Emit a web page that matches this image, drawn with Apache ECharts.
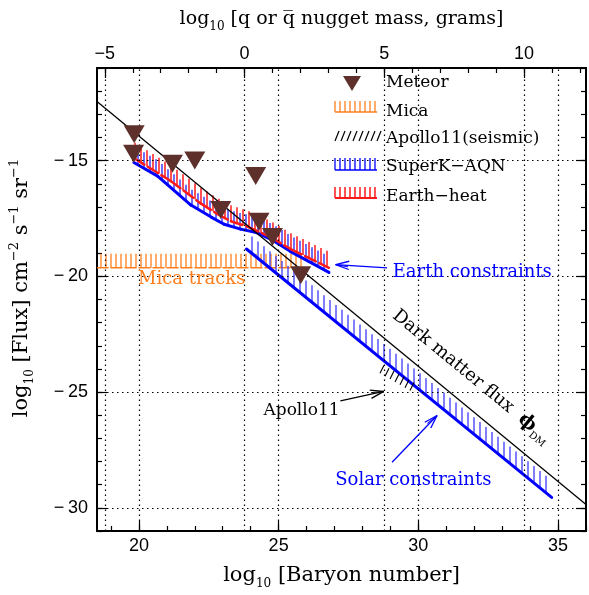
<!DOCTYPE html>
<html>
<head>
<meta charset="utf-8">
<script src="https://cdn.jsdelivr.net/npm/echarts@6/dist/echarts.min.js"></script>
<style>
  html, body { margin: 0; padding: 0; background: #fff; }
  #chart { width: 589px; height: 595px; }
</style>
</head>
<body>
<div id="chart"></div>
<script>
// ---- axes ----
const xRange = [18.5, 36];
const yRange = [-31, -11];
const massOffset = 23.78;            // log10(proton mass / g) = -23.78
const xMajor = [20, 25, 30, 35];
const xMinor = [19, 20, 21, 22, 23, 24, 25, 26, 27, 28, 29, 30, 31, 32, 33, 34, 35, 36];
const yMajor = [-30, -25, -20, -15];
const yMinor = [-31, -30, -29, -28, -27, -26, -25, -24, -23, -22, -21, -20, -19, -18, -17, -16, -15, -14, -13, -12, -11];
const massMajor = [-5, 0, 5, 10];
const massMinor = [-5, -4, -3, -2, -1, 0, 1, 2, 3, 4, 5, 6, 7, 8, 9, 10, 11, 12];

// ---- data (log10 baryon number, log10 flux) ----
const dmX = [18.5, 36];
const dmY = [-12.45, -29.85];

const meteorX = [19.83, 19.81, 21.20, 22.00, 22.93, 24.18, 24.30, 24.78, 25.79];
const meteorY = [-13.86, -14.70, -15.14, -15.00, -17.13, -15.67, -17.64, -18.30, -19.95];

const superkX = [19.82, 20.67, 21.86, 22.60, 23.05, 23.64, 24.24, 24.80, 25.43, 26.80];
const superkY = [-15.08, -15.67, -16.92, -17.45, -17.75, -17.96, -18.12, -18.45, -18.93, -19.83];

const earthX = [19.83, 21.14, 22.21, 22.80, 23.29, 23.88, 24.71, 25.43, 26.80];
const earthY = [-14.90, -15.88, -16.85, -17.30, -17.62, -17.85, -18.30, -18.82, -19.63];

const solarX = [23.85, 34.77];
const solarY = [-18.82, -29.55];

const micaX = [18.5, 25.95];
const micaY = [-19.63, -19.63];

const apolloX = [28.5, 29.8];
const apolloY = [-24.1, -25.0];

// annotations
const noteText = ['Mica tracks', 'Earth constraints', 'Solar constraints', 'Apollo11'];
const noteX = [21.89, 31.93, 29.82, 25.82];
const noteY = [-20.13, -19.83, -28.79, -25.79];
const noteColor = ['#ff7f1e', '#0000ff', '#0000ff', '#000'];
const noteSize = [18, 18, 18, 17];

const arrowFrom = [[28.88, -19.63], [27.21, -25.38], [29.06, -28.03]];
const arrowTo = [[27.04, -19.49], [28.76, -24.97], [30.67, -26.01]];
const arrowColor = ['#0000ff', '#000', '#0000ff'];

const legendNames = ['Meteor', 'Mica', 'Apollo11(seismic)', 'SuperK\u2212AQN', 'Earth\u2212heat'];
const legendColors = ['#5e302b', '#ff7f1e', '#000', '#0000ff', '#ff1a1a'];

const SERIF = '"DejaVu Serif", serif';
const SANS = '"Liberation Sans", Arial, sans-serif';

const minus = v => (v < 0 ? '\u2212\u2009' + (-v) : String(v));

function pairs(xs, ys) { return xs.map((x, i) => [x, ys[i]]); }
function segs(xs, ys) {
  const out = [];
  for (let i = 0; i < xs.length - 1; i++) out.push([xs[i], ys[i], xs[i + 1], ys[i + 1]]);
  return out;
}

// hatched constraint curve: base line + short strokes every `step` px
function hatchSeries(name, xs, ys, o) {
  return {
    name: name, type: 'custom', xAxisIndex: 0, yAxisIndex: 0,
    data: segs(xs, ys), encode: {x: [0, 2], y: [1, 3]},
    silent: true, clip: true, z: o.z || 2,
    renderItem: function (params, api) {
      const a = api.coord([api.value(0), api.value(1)]);
      const b = api.coord([api.value(2), api.value(3)]);
      const kids = [];
      const x0 = Math.ceil((a[0] - o.phase) / o.step) * o.step + o.phase;
      for (let x = x0; x < b[0]; x += o.step) {
        const y = a[1] + (x - a[0]) / (b[0] - a[0]) * (b[1] - a[1]);
        kids.push({type: 'line', shape: {x1: x, y1: y, x2: x + (o.dx || 0), y2: y - o.len},
          style: {stroke: o.color, lineWidth: o.hw || 1.3}});
      }
      if (o.lw) {
        kids.push({type: 'line', shape: {x1: a[0], y1: a[1], x2: b[0], y2: b[1]},
          style: {stroke: o.line || o.color, lineWidth: o.lw, lineDash: o.dash || null, lineCap: 'round'}});
      }
      return {type: 'group', children: kids};
    }
  };
}

// ---- hand drawn legend (top right) ----
function buildLegend() {
  const g = [];
  const x0 = 335, x1 = 377, tx = 386;
  const rows = [83, 112, 139, 167, 197];
  function hatch(base, len, step, color, dx, lw, line) {
    for (let x = x0; x <= x1; x += step) {
      g.push({type: 'line', shape: {x1: x, y1: base, x2: x + dx, y2: base - len}, style: {stroke: color, lineWidth: lw}});
    }
    if (line) g.push({type: 'line', shape: {x1: x0, y1: base, x2: x1, y2: base}, style: {stroke: color, lineWidth: line}});
  }
  g.push({type: 'polygon', shape: {points: [[343, 76], [361, 76], [352, 91]]}, style: {fill: legendColors[0]}});
  hatch(112, 11, 5, legendColors[1], 0, 1.3, 1.3);
  hatch(141, 10, 6, legendColors[2], 4, 1.2, 0);
  hatch(170, 12, 5, legendColors[3], 0, 1.3, 1.5);
  hatch(198, 11, 5, legendColors[4], 0, 1.5, 2);
  legendNames.forEach((n, i) => g.push({type: 'text', x: tx, y: rows[i],
    style: {text: n, fill: '#000', font: '17px ' + SERIF, verticalAlign: 'middle'}}));
  return g;
}

const chart = echarts.init(document.getElementById('chart'));

const frame = {show: true, onZero: false, lineStyle: {color: '#000', width: 2}};
const noLine = {show: false, onZero: false};
const subRich = {fontSize: 12, fontFamily: SERIF, verticalAlign: 'bottom', lineHeight: 14};

const yTitle = {type: 'text', x: 22, y: 288, rotation: Math.PI / 2,
  style: {text: 'log{sub|10} [Flux] cm{sup|\u22122} s{sup|\u22121} sr{sup|\u22121}',
    fill: '#000', font: '21px ' + SERIF, align: 'center', verticalAlign: 'middle', lineHeight: 28,
    rich: {
      sub: subRich,
      sup: {fontSize: 13, fontFamily: SERIF, verticalAlign: 'top', lineHeight: 14}
    }}};

chart.setOption({
  animation: false,
  backgroundColor: '#fff',
  grid: {left: 97, right: 3, top: 58, bottom: 57},
  xAxis: [
    {type: 'value', position: 'bottom', min: xRange[0], max: xRange[1],
      axisLine: frame, splitLine: {show: false},
      axisTick: {inside: true, length: 10, customValues: xMajor, lineStyle: {color: '#000', width: 1.2}},
      axisLabel: {customValues: xMajor, color: '#000', fontSize: 18, fontFamily: SANS, margin: 6},
      name: 'log{sub|10} [Baryon number]', nameLocation: 'middle', nameGap: 31,
      nameTextStyle: {color: '#000', fontSize: 21, fontFamily: SERIF, lineHeight: 28, rich: {sub: subRich}}},
    {type: 'value', position: 'bottom', min: xRange[0], max: xRange[1],
      axisLine: noLine, splitLine: {show: false}, axisLabel: {show: false},
      axisTick: {inside: true, length: 5, customValues: xMinor, lineStyle: {color: '#000', width: 1.2}}},
    {type: 'value', position: 'top', min: xRange[0] - massOffset, max: xRange[1] - massOffset,
      axisLine: frame, splitLine: {show: false},
      axisTick: {inside: true, length: 10, customValues: massMajor, lineStyle: {color: '#000', width: 1.2}},
      axisLabel: {customValues: massMajor, formatter: v => (v < 0 ? '\u2212' + (-v) : String(v)),
        color: '#000', fontSize: 18, fontFamily: SANS, margin: 5},
      name: 'log{sub|10} [q or q\u0305 nugget mass, grams]', nameLocation: 'middle', nameGap: 35,
      nameTextStyle: {color: '#000', fontSize: 19, fontFamily: SERIF, lineHeight: 28, rich: {sub: subRich}}},
    {type: 'value', position: 'top', min: xRange[0] - massOffset, max: xRange[1] - massOffset,
      axisLine: noLine, splitLine: {show: false}, axisLabel: {show: false},
      axisTick: {inside: true, length: 5, customValues: massMinor, lineStyle: {color: '#000', width: 1.2}}}
  ],
  yAxis: [
    {type: 'value', position: 'left', min: yRange[0], max: yRange[1],
      axisLine: frame, splitLine: {show: false},
      axisTick: {inside: true, length: 10, customValues: yMajor, lineStyle: {color: '#000', width: 1.2}},
      axisLabel: {customValues: yMajor, formatter: minus, color: '#000', fontSize: 18, fontFamily: SANS, margin: 9}},
    {type: 'value', position: 'left', min: yRange[0], max: yRange[1],
      axisLine: noLine, splitLine: {show: false}, axisLabel: {show: false},
      axisTick: {inside: true, length: 5, customValues: yMinor, lineStyle: {color: '#000', width: 1.2}}},
    {type: 'value', position: 'right', min: yRange[0], max: yRange[1],
      axisLine: frame, splitLine: {show: false}, axisLabel: {show: false},
      axisTick: {inside: true, length: 10, customValues: yMajor, lineStyle: {color: '#000', width: 1.2}}},
    {type: 'value', position: 'right', min: yRange[0], max: yRange[1],
      axisLine: noLine, splitLine: {show: false}, axisLabel: {show: false},
      axisTick: {inside: true, length: 5, customValues: yMinor, lineStyle: {color: '#000', width: 1.2}}}
  ],
  graphic: [yTitle].concat(buildLegend()),
  series: [
    // dotted grid + dark matter flux line
    {name: 'DM', type: 'line', xAxisIndex: 0, yAxisIndex: 0, data: pairs(dmX, dmY),
      showSymbol: false, silent: true, z: 4,
      lineStyle: {color: '#000', width: 1.3},
      markLine: {silent: true, symbol: 'none', label: {show: false},
        lineStyle: {color: '#000', width: 1.2, type: [1.5, 3.5]},
        data: xMajor.map(v => ({xAxis: v}))
          .concat(massMajor.map(v => ({xAxis: v + massOffset})))
          .concat(yMajor.map(v => ({yAxis: v})))}},
    hatchSeries('Mica', micaX, micaY, {color: '#ff7f1e', step: 5, phase: 1, len: 14, hw: 1.3, lw: 1.5, dash: [11, 3]}),
    hatchSeries('Solar', solarX, solarY, {color: '#3a3aff', line: '#0000ff', step: 6, phase: 0, len: 17, hw: 1.3, lw: 3}),
    hatchSeries('SuperK', superkX, superkY, {color: '#2020ff', line: '#0000ff', step: 6, phase: 0, len: 16, hw: 1.3, lw: 3}),
    hatchSeries('Earth', earthX, earthY, {color: '#ff1a1a', step: 6, phase: 3, len: 16, hw: 1.5, lw: 2.5, dash: [12, 4], z: 3}),
    hatchSeries('Apollo', apolloX, apolloY, {color: '#000', step: 5, phase: 0, len: 8, dx: 4, hw: 1.1}),
    {name: 'Meteor', type: 'scatter', xAxisIndex: 0, yAxisIndex: 0, data: pairs(meteorX, meteorY),
      symbol: 'triangle', symbolRotate: 180, symbolSize: [21, 18], z: 5,
      itemStyle: {color: '#5e302b', opacity: 1}},
    // annotations
    {name: 'notes', type: 'custom', xAxisIndex: 0, yAxisIndex: 0, silent: true, z: 6,
      data: noteText.map((t, i) => [noteX[i], noteY[i]]),
      renderItem: function (params, api) {
        const i = params.dataIndex;
        const p = api.coord([noteX[i], noteY[i]]);
        return {type: 'text', x: p[0], y: p[1],
          style: {text: noteText[i], fill: noteColor[i], font: noteSize[i] + 'px ' + SERIF, align: 'center', verticalAlign: 'middle'}};
      }},
    {name: 'arrows', type: 'custom', xAxisIndex: 0, yAxisIndex: 0, silent: true, z: 6,
      data: arrowFrom.map((f, i) => [f[0], f[1], arrowTo[i][0], arrowTo[i][1]]),
      renderItem: function (params, api) {
        const i = params.dataIndex;
        const a = api.coord(arrowFrom[i]);
        const b = api.coord(arrowTo[i]);
        const ang = Math.atan2(b[1] - a[1], b[0] - a[0]);
        const h = 14, w = 0.3;
        const kids = [
          {type: 'line', shape: {x1: a[0], y1: a[1], x2: b[0], y2: b[1]}, style: {stroke: arrowColor[i], lineWidth: 1.3}}
        ];
        [w, -w].forEach(d => kids.push({type: 'line', shape: {x1: b[0], y1: b[1],
          x2: b[0] - h * Math.cos(ang + d), y2: b[1] - h * Math.sin(ang + d)},
          style: {stroke: arrowColor[i], lineWidth: 1.3}}));
        kids.push({type: 'line', shape: {x1: b[0], y1: b[1], x2: b[0] - h * 0.9 * Math.cos(ang + 0.12), y2: b[1] - h * 0.9 * Math.sin(ang + 0.12)},
          style: {stroke: arrowColor[i], lineWidth: 1}});
        return {type: 'group', children: kids};
      }},
    {name: 'dmlabel', type: 'custom', xAxisIndex: 0, yAxisIndex: 0, silent: true, z: 6,
      data: [[31.9, -24.33]],
      renderItem: function (params, api) {
        const p = api.coord([api.value(0), api.value(1)]);
        const a = api.coord([dmX[0], dmY[0]]);
        const b = api.coord([dmX[1], dmY[1]]);
        const rot = -Math.atan2(b[1] - a[1], b[0] - a[0]);
        return {type: 'text', x: p[0], y: p[1], rotation: rot,
          style: {text: 'Dark matter flux  {p|\u03d5}{s|DM}', fill: '#000', font: '18px ' + SERIF,
            align: 'center', verticalAlign: 'middle', lineHeight: 24,
            rich: {p: {fontSize: 19, fontFamily: SERIF, fontWeight: 'bold', lineHeight: 24},
              s: {fontSize: 10, fontFamily: SERIF, verticalAlign: 'bottom', lineHeight: 12}}}};
      }}
  ]
});
</script>
</body>
</html>
